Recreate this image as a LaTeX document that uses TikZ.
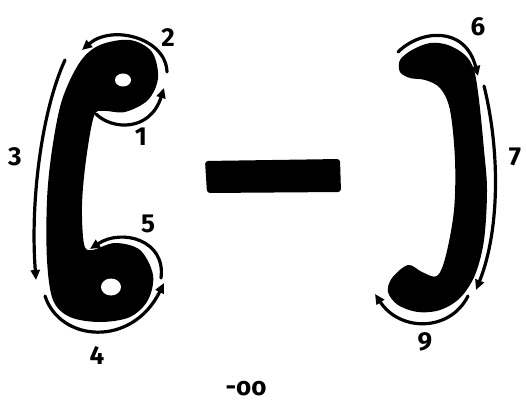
\documentclass[tikz,border=0pt]{standalone}
\usepackage{fontspec}
\setmainfont{Fira Sans}
\usetikzlibrary{arrows.meta}
\begin{document}
\begin{tikzpicture}[
    x=1pt,y=-1pt,
    blob/.style={fill=black},
    hole/.style={fill=white},
    flow/.style={line width=3.2pt,line cap=round,-{Triangle[length=10pt,width=9pt]}},
    num/.style={font=\fontsize{26}{26}\selectfont\bfseries}
]
\useasboundingbox (0,0) rectangle (526,406);

% left piece
\fill[blob] plot[smooth cycle,tension=0.55] coordinates {
    (62,100) (80,62) (100,45) (130,40) (152,52) (158,78) (148,100)
    (125,112) (104,111) (94,116) (86,160) (82,205) (84,244) (92,250)
    (115,243) (140,250) (153,275) (148,300) (130,317) (100,322)
    (70,317) (53,300) (47,260) (47,200) (52,150)};
\fill[hole] (123,80) ellipse (8 and 6.5);
\fill[hole] (111,287) ellipse (10 and 8.5);

% middle bar
\fill[blob,rounded corners=3pt] (205,161) -- (340,159) -- (341,192) -- (207,193) -- cycle;

% right piece
\fill[blob] plot[smooth cycle,tension=0.55] coordinates {
    (400,60) (412,50) (430,43) (448,45) (465,55) (474,70) (479,100)
    (484,150) (487,190) (484,240) (475,275) (460,298) (440,310)
    (418,312) (398,305) (388,292) (392,278) (408,265) (422,272)
    (437,276) (446,255) (454,210) (455,160) (450,110) (440,88)
    (425,80) (410,78) (400,72)};

% arrows round the left piece
\draw[flow] (96,114) .. controls (112,130) and (150,132) .. (164,88);
\draw[flow] (167,72) .. controls (166,38) and (112,24) .. (82,50);
\draw[flow] (65,60) .. controls (42,110) and (30,200) .. (36,280);
\draw[flow] (45,296) .. controls (60,342) and (132,348) .. (164,283);
\draw[flow] (161,278) .. controls (166,240) and (122,228) .. (90,249);

% arrows round the right piece
\draw[flow] (398,52) .. controls (420,30) and (465,25) .. (478,76);
\draw[flow] (484,86) .. controls (500,150) and (500,230) .. (476,290);
\draw[flow] (468,296) .. controls (450,332) and (400,332) .. (375,294);

% numbers
\node[num] (n1) at (141,137) {1};
\node[num] (n2) at (168,38) {2};
\node[num] (n3) at (15,157) {3};
\node[num] (n4) at (97,355) {4};
\node[num] (n5) at (148,224) {5};
\node[num] (n6) at (478,27) {6};
\node[num] (n7) at (515,157) {7};
\node[num] (n9) at (425,342) {9};

% limit
\node[num] (lim) at (246,389) {-oo};

\end{tikzpicture}
\end{document}
